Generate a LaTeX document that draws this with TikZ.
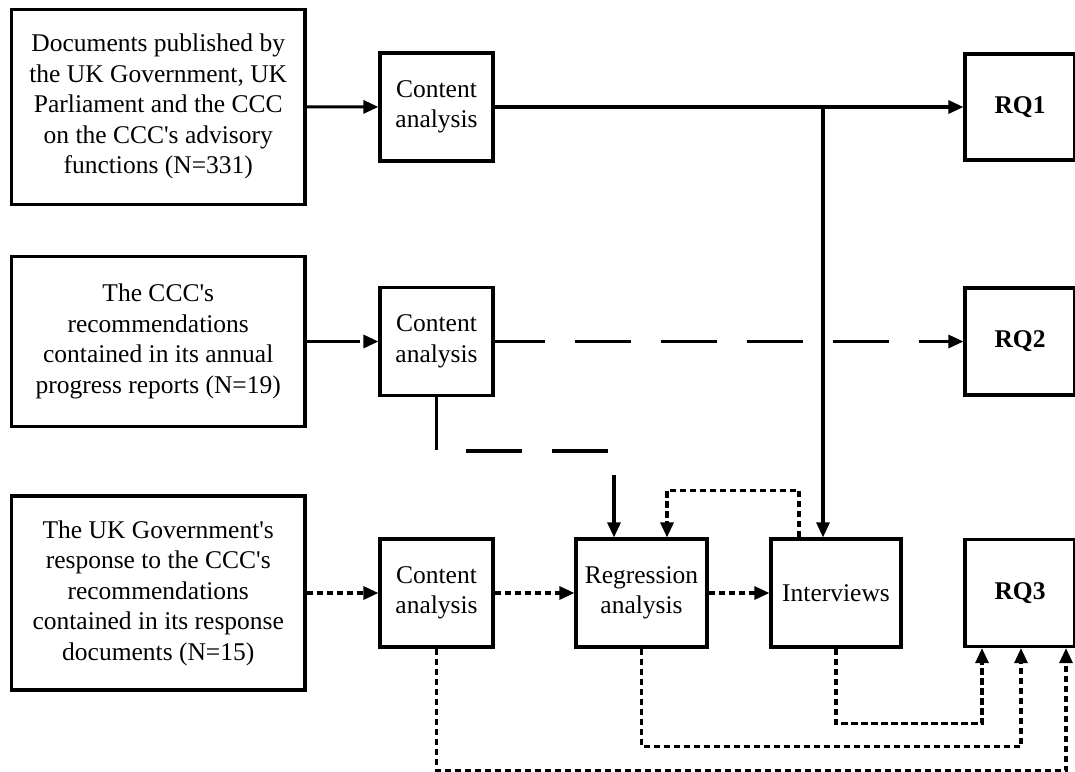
\documentclass[tikz,border=0pt]{standalone}
\usepackage{fontspec}
\setmainfont{Liberation Serif}[Ligatures=TeXOff]
\usetikzlibrary{arrows.meta}
\begin{document}
\begin{tikzpicture}[x=1pt,y=-1pt,
  box/.style={draw, line width=3.2pt, inner sep=0pt, align=center,
    font=\fontsize{25.5}{30.5}\selectfont},
  conn/.style={line width=3.1pt, -{Triangle[length=15pt,width=13pt]}},
  longdash/.style={dash pattern=on 56pt off 30pt},
  dots/.style={dash pattern=on 6.5pt off 3.5pt},
]
\useasboundingbox (0,0) rectangle (1075,771);
% row 1
\node[box, minimum width=293.5pt, minimum height=195pt] (b1) at (158.25,106.7)
  {Documents published by\\the UK Government, UK\\Parliament and the CCC\\on the CCC's advisory\\functions (N=331)};
\node[box, minimum width=113pt, minimum height=108pt] (ca1) at (436.5,107) {Content\\analysis};
\node[box, minimum width=110pt, minimum height=106pt] (rq1) at (1020,107) {\textbf{RQ1}};
% row 2
\node[box, minimum width=293.5pt, minimum height=169.5pt] (b2) at (158.25,341.5)
  {The CCC's\\recommendations\\contained in its annual\\progress reports (N=19)};
\node[box, minimum width=113pt, minimum height=108pt] (ca2) at (436.5,341.5) {Content\\analysis};
\node[box, minimum width=110pt, minimum height=107pt] (rq2) at (1020,341.5) {\textbf{RQ2}};
% row 3
\node[box, minimum width=293.5pt, minimum height=194pt] (b3) at (158.25,593)
  {The UK Government's\\response to the CCC's\\recommendations\\contained in its response\\documents (N=15)};
\node[box, minimum width=113pt, minimum height=108pt] (ca3) at (436.5,593) {Content\\analysis};
\node[box, minimum width=131pt, minimum height=108pt] (reg) at (641.5,593) {Regression\\analysis};
\node[box, minimum width=130pt, minimum height=108pt] (int) at (836,593) {Interviews};
\node[box, minimum width=110pt, minimum height=107pt] (rq3) at (1020,593) {\textbf{RQ3}};
% solid connectors
\coordinate (j) at (823,107);
\draw[conn] (b1) -- (ca1);
\draw[conn] (ca1) -- (rq1);
\draw[conn] (j) -- (j |- int.north);
% long dashed connectors
\draw[conn,longdash,dash phase=3pt] (b2) -- (ca2);
\draw[conn,longdash,dash phase=6pt] (ca2) -- (rq2);
\draw[conn,longdash,dash phase=3pt] (ca2.south) -- (ca2.south |- 0,451) -| ([xshift=-27.5pt]reg.north);
% dotted connectors
\draw[conn,dots] (b3) -- (ca3);
\draw[conn,dots] (ca3) -- (reg);
\draw[conn,dots] (reg) -- (int);
\draw[conn,dots] ([xshift=-37pt]int.north) -- ++(0,-47) -| ([xshift=25.5pt]reg.north);
\draw[conn,dots] (int.south) -- ++(0,75) -| ([xshift=-38pt]rq3.south);
\draw[conn,dots] (reg.south) -- ++(0,98) -| ([xshift=1pt]rq3.south);
\draw[conn,dots] (ca3.south) -- ++(0,122) -| ([xshift=46pt]rq3.south);
\end{tikzpicture}
\end{document}
